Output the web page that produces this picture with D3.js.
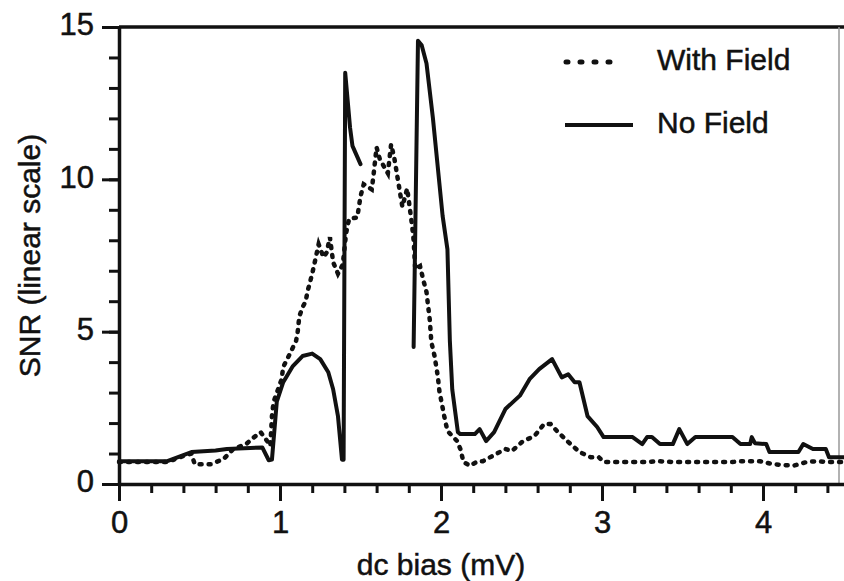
<!DOCTYPE html>
<html>
<head>
<meta charset="utf-8">
<script src="https://cdn.jsdelivr.net/npm/d3@7"></script>
<style>
  body { margin: 0; background: #fff; }
  svg { display: block; }
  text { font-family: "Liberation Sans", Arial, Helvetica, sans-serif; fill: #111; stroke: #111; stroke-width: 0.5; }
</style>
</head>
<body>
<svg id="svg" width="844" height="581"></svg>
<script>
// SNR vs dc bias, two series (null = gap in the line)
const noFieldX = [0.00, 0.30, 0.40, 0.45, 0.60, 0.67, 0.89, 0.93, 0.95, 0.98, 1.02, 1.08, 1.14, 1.20, 1.25, 1.30, 1.33, 1.36, 1.385, 1.395, 1.405, 1.435, 1.45, 1.50,
  null,
  1.83, 1.857, 1.88, 1.91, 1.95, 2.01, 2.04, 2.055, 2.07, 2.105, 2.12, 2.21, 2.24, 2.28, 2.33, 2.40, 2.49, 2.55, 2.61, 2.69, 2.75, 2.79, 2.83, 2.86, 2.91, 2.97, 3.01,
  3.19, 3.25, 3.28, 3.31, 3.36, 3.44, 3.48, 3.53, 3.58, 3.81, 3.86, 3.92, 3.93, 3.95, 4.02, 4.04, 4.22, 4.25, 4.31, 4.39, 4.41, 4.50];
const noFieldY = [0.75, 0.75, 0.95, 1.05, 1.10, 1.15, 1.20, 0.78, 0.80, 2.70, 3.34, 3.87, 4.20, 4.28, 4.10, 3.67, 3.11, 2.23, 0.80, 0.80, 13.5, 11.7, 11.1, 10.5,
  null,
  4.5, 14.55, 14.4, 13.8, 12.0, 8.8, 7.7, 4.7, 3.1, 1.7, 1.64, 1.64, 1.80, 1.41, 1.70, 2.46, 2.90, 3.44, 3.77, 4.10, 3.50, 3.60, 3.34, 3.34, 2.23, 1.87, 1.54,
  1.54, 1.31, 1.54, 1.54, 1.31, 1.31, 1.80, 1.31, 1.54, 1.54, 1.31, 1.31, 1.54, 1.34, 1.31, 1.05, 1.05, 1.31, 1.15, 1.15, 0.88, 0.88];

const withFieldX = [0.00, 0.30, 0.40, 0.45, 0.47, 0.57, 0.65, 0.71, 0.79, 0.83, 0.88, 0.92, 0.94, 0.95, 0.96, 1.01, 1.02, 1.06, 1.10, 1.11, 1.12, 1.14, 1.16, 1.17,
  1.20, 1.22, 1.24, 1.27, 1.29, 1.31, 1.33, 1.36, 1.39, 1.41, 1.42, 1.43, 1.48, 1.50, 1.52, 1.57, 1.58, 1.60, 1.62, 1.67, 1.69, 1.71, 1.76, 1.79, 1.81, 1.82, 1.83,
  1.84, 1.87, 1.89, 1.91, 1.92, 1.93, 1.94, 1.96, 1.98, 1.99, 2.02, 2.04, 2.10, 2.12, 2.14, 2.18, 2.23, 2.26, 2.32, 2.40, 2.44, 2.51, 2.58, 2.64, 2.68, 2.72, 2.79,
  2.86, 2.93, 2.98, 3.01, 3.28, 3.34, 3.44, 3.81, 3.86, 3.98, 4.06, 4.19, 4.27, 4.34, 4.40, 4.50];
const withFieldY = [0.72, 0.72, 0.92, 1.00, 0.65, 0.65, 0.82, 1.15, 1.31, 1.50, 1.70, 1.41, 1.25, 2.23, 2.69, 3.44, 3.84, 4.26, 4.70, 5.00, 5.50, 5.80, 6.00, 6.30,
  6.90, 7.38, 7.87, 7.44, 7.60, 8.10, 7.28, 6.90, 7.20, 8.20, 8.50, 8.70, 8.75, 9.44, 9.84, 9.67, 10.1, 11.05, 10.66, 10.2, 11.15, 10.7, 9.10, 9.70, 8.90, 8.50, 8.00,
  7.05, 7.15, 6.70, 6.30, 5.84, 5.40, 4.66, 4.20, 3.54, 3.05, 2.23, 1.74, 1.41, 1.15, 0.72, 0.60, 0.75, 0.75, 0.92, 1.15, 1.08, 1.41, 1.57, 1.97, 1.97, 1.74, 1.38,
  1.05, 0.88, 0.88, 0.72, 0.72, 0.75, 0.72, 0.72, 0.75, 0.75, 0.65, 0.60, 0.72, 0.75, 0.72, 0.72];

const xMajorTicks = [0, 1, 2, 3, 4];
const xMinorTicks = d3.range(0, 45, 2).map(d => d / 10);
const yMajorTicks = [0, 5, 10, 15];
const yMinorTicks = d3.range(0, 16);
const seriesNames = ["With Field", "No Field"];

const svg = d3.select("#svg");

//軸のスケール
const x = d3.scaleLinear().domain([0, 4.5]).range([119, 843.5]);
const y = d3.scaleLinear().domain([0, 15]).range([484, 27]);

//枠（上と右）
svg.append("line").attr("x1", 119).attr("x2", 844).attr("y1", y(15)).attr("y2", y(15))
  .attr("stroke", "#111").attr("stroke-width", 3.5);
svg.append("line").attr("x1", 839).attr("x2", 839).attr("y1", y(15)).attr("y2", y(0))
  .attr("stroke", "#999").attr("stroke-width", 1.5);

function styleAxis(g) {
  g.selectAll(".domain").attr("stroke", "#111").attr("stroke-width", 3.5);
  g.selectAll(".tick line").attr("stroke", "#111").attr("stroke-width", 3);
  g.selectAll(".tick text").attr("font-size", 31).attr("fill", "#111")
    .attr("font-family", "'Liberation Sans', Arial, sans-serif");
}

//x軸
svg.append("g").attr("transform", `translate(0,${y(0)})`)
  .call(d3.axisBottom(x).tickValues(xMinorTicks).tickSize(9).tickSizeOuter(0).tickFormat(""))
  .call(styleAxis);
svg.append("g").attr("transform", `translate(0,${y(0)})`)
  .call(d3.axisBottom(x).tickValues(xMajorTicks).tickSize(17).tickSizeOuter(0).tickPadding(10).tickFormat(d3.format("d")))
  .call(styleAxis)
  .call(g => g.select(".domain").remove());

//y軸
svg.append("g").attr("transform", `translate(${x(0)},0)`)
  .call(d3.axisLeft(y).tickValues(yMinorTicks).tickSize(10).tickSizeOuter(0).tickFormat(""))
  .call(styleAxis);
svg.append("g").attr("transform", `translate(${x(0)},0)`)
  .call(d3.axisLeft(y).tickValues(yMajorTicks).tickSize(17).tickSizeOuter(0).tickPadding(8).tickFormat(d3.format("d")))
  .call(styleAxis)
  .call(g => g.select(".domain").remove())
  .call(g => g.selectAll(".tick text").attr("dy", "0.25em"));

//軸タイトル
svg.append("text").attr("x", x(2)).attr("y", 575).attr("text-anchor", "middle")
  .attr("font-size", 30).text("dc bias (mV)");
svg.append("text").attr("transform", `translate(40,${y(7.5)}) rotate(-90)`).attr("text-anchor", "middle")
  .attr("font-size", 30).text("SNR (linear scale)");

//データ線
const line = d3.line()
  .defined(d => d[0] !== null)
  .x(d => x(d[0])).y(d => y(d[1]));

const withField = d3.zip(withFieldX, withFieldY);
const noField = d3.zip(noFieldX, noFieldY);

svg.append("path").datum(withField).attr("d", line)
  .attr("fill", "none").attr("stroke", "#111").attr("stroke-width", 4.5)
  .attr("stroke-linecap", "round").attr("stroke-dasharray", "2,7");
svg.append("path").datum(noField).attr("d", line)
  .attr("fill", "none").attr("stroke", "#111").attr("stroke-width", 4)
  .attr("stroke-linejoin", "round").attr("stroke-linecap", "round");

//凡例
const legend = svg.append("g");
legend.append("line").attr("x1", 566).attr("x2", 622).attr("y1", 62).attr("y2", 62)
  .attr("stroke", "#111").attr("stroke-width", 5).attr("stroke-linecap", "round").attr("stroke-dasharray", "2,12");
legend.append("line").attr("x1", 565).attr("x2", 633).attr("y1", 125).attr("y2", 125)
  .attr("stroke", "#111").attr("stroke-width", 4);
legend.selectAll("text.lab").data(seriesNames).join("text").attr("class", "lab")
  .attr("x", 657).attr("y", (d, i) => 70 + i * 63)
  .attr("font-size", 30).text(d => d);
</script>
</body>
</html>
